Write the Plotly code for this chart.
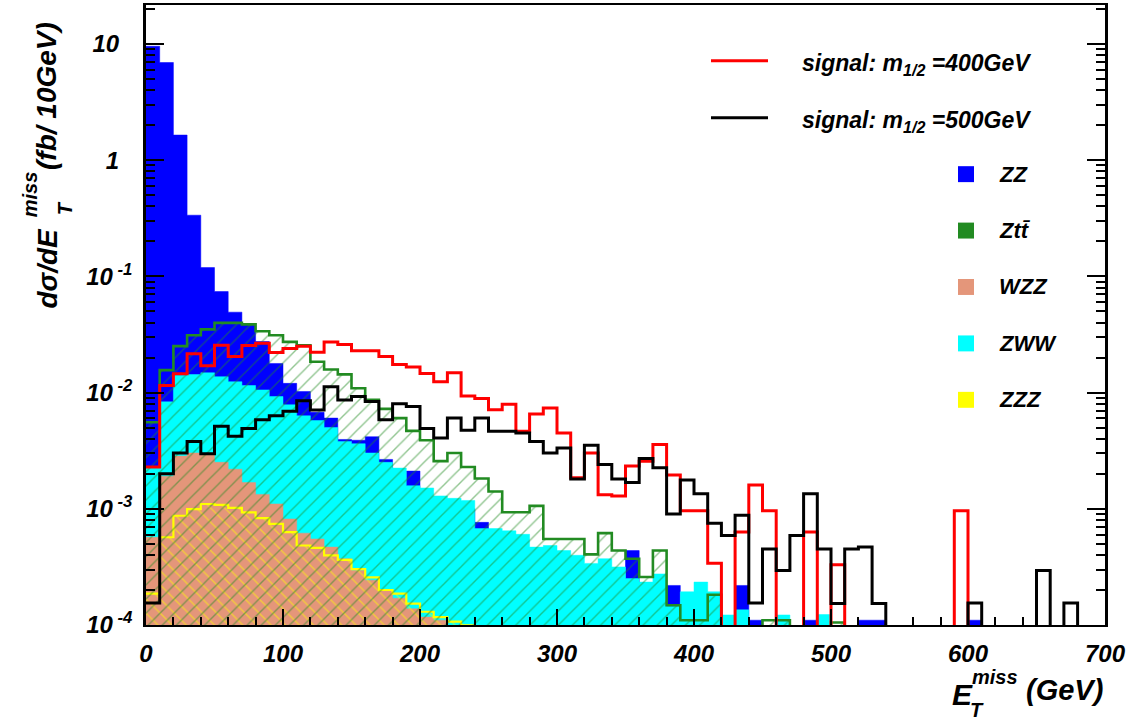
import numpy as np
import plotly.graph_objects as go

# ---------------- data (fb / 10 GeV), 10 GeV bins from 0 to 700 GeV ----------------
bin_edges = list(range(0, 710, 10))

zz = [9.55, 6.92, 1.644, 0.336, 0.119, 0.0740, 0.0492, 0.0389, 0.0275, 0.0178,
      0.0120, 0.0102, 0.00676, 0.00603, 0.00395, 0.00389, 0.00417, 0.00266, 0.00178, 0.00211,
      0.00126, 0.00112, 0.00100, 0.00100, 0.000764, 0.000562, 0.000501, 0.000447, 0.000398, 0.000355,
      0.000355, 0.000316, 0.000282, 0.000282, 0.000251, 0.000437, 0.000158, 0.000158, 0.000219, 0.000126,
      0.000126, 0.000126, 0, 0.000219, 0.00011, 0, 0, 0, 0.00011, 0,
      0, 0, 0.00011, 0.00011, 0, 0, 0, 0, 0, 0,
      0.00011, 0, 0, 0, 0, 0, 0, 0, 0, 0]

ztt = [0.00555, 0.0156, 0.0251, 0.0311, 0.0350, 0.0398, 0.0398, 0.0386, 0.0337, 0.0311,
       0.0273, 0.0255, 0.0184, 0.0158, 0.01435, 0.0109, 0.00865, 0.00724, 0.00603, 0.00468,
       0.00389, 0.00257, 0.00302, 0.00229, 0.00182, 0.00141, 0.000933, 0.000933, 0.00106, 0.00055,
       0.00055, 0.00055, 0.000405, 0.000617, 0.000437, 0.000372, 0.000259, 0.000437, 0.000148, 0.00011,
       0.00011, 0.000182, 0, 0, 0, 0.00011, 0.00011, 0, 0, 0,
       0.000105, 0, 0, 0, 0, 0, 0, 0, 0, 0,
       0, 0, 0, 0, 0, 0, 0, 0, 0, 0]

wzz = [0.000569, 0.00191, 0.00284, 0.00302, 0.00295, 0.00251, 0.00219, 0.00168, 0.00133, 0.00110,
       0.000817, 0.000617, 0.000550, 0.000468, 0.000372, 0.000295, 0.000243, 0.000200, 0.000170, 0.000138,
       0.000117, 0.000110, 0.000079, 0, 0, 0, 0, 0, 0, 0,
       0, 0, 0, 0, 0, 0, 0, 0, 0, 0,
       0, 0, 0, 0, 0, 0, 0, 0, 0, 0,
       0, 0, 0, 0, 0, 0, 0, 0, 0, 0,
       0, 0, 0, 0, 0, 0, 0, 0, 0, 0]

zww = [0.00224, 0.00832, 0.0141, 0.0143, 0.0148, 0.0137, 0.0124, 0.0115, 0.01054, 0.00925,
       0.00785, 0.00631, 0.00575, 0.00501, 0.00380, 0.00363, 0.00302, 0.00251, 0.00224, 0.00158,
       0.00151, 0.00129, 0.00123, 0.00118, 0.000676, 0.000676, 0.000646, 0.000603, 0.000468, 0.000483,
       0.000437, 0.000398, 0.000339, 0.000372, 0.000316, 0.000251, 0.000234, 0.000275, 0.000145, 0.000193,
       0.000234, 0.000193, 0.000122, 0.000135, 0, 0, 0.000122, 0, 0, 0.000123,
       0, 0, 0, 0, 0, 0, 0, 0, 0, 0,
       0, 0, 0, 0, 0, 0, 0, 0, 0, 0]

zzz = [0.000186, 0.000569, 0.000871, 0.000993, 0.00110, 0.00108, 0.00102, 0.000933, 0.000832, 0.000741,
       0.000631, 0.000483, 0.000461, 0.000398, 0.000363, 0.000302, 0.000257, 0.000200, 0.000186, 0.000153,
       0.000130, 0.000117, 0.000107, 0.0000995, 0, 0, 0, 0, 0, 0,
       0, 0, 0, 0, 0, 0, 0, 0, 0, 0,
       0, 0, 0, 0, 0, 0, 0, 0, 0, 0,
       0, 0, 0, 0, 0, 0, 0, 0, 0, 0,
       0, 0, 0, 0, 0, 0, 0, 0, 0, 0]

sig400 = [0.00229, 0.0115, 0.0145, 0.0216, 0.0170, 0.0255, 0.0204, 0.0254, 0.0266, 0.0221,
          0.0239, 0.0251, 0.0222, 0.0273, 0.0259, 0.0229, 0.0229, 0.0204, 0.0174, 0.0166,
          0.0146, 0.0124, 0.0148, 0.00933, 0.00891, 0.00711, 0.00794, 0.00465, 0.00653, 0.00735,
          0.00449, 0.00185, 0.00302, 0.00132, 0.00129, 0.00234, 0.00257, 0.00357, 0.00195, 0.00096,
          0.00096, 0.00034, 0, 0.00063, 0.0016, 0.00096, 0, 0, 0.00063, 0,
          0.00033, 0, 0, 0, 0, 0, 0, 0, 0, 0.00096,
          0, 0, 0, 0, 0, 0, 0, 0, 0, 0]

sig500 = [0.000155, 0.00200, 0.00302, 0.00380, 0.00297, 0.00513, 0.00421, 0.00490, 0.00585, 0.00631,
          0.00692, 0.00851, 0.00708, 0.01125, 0.00865, 0.00925, 0.00838, 0.00583, 0.00800, 0.00759,
          0.00490, 0.00407, 0.00603, 0.00473, 0.00603, 0.00465, 0.00465, 0.00449, 0.00380, 0.00302,
          0.00334, 0.00180, 0.00352, 0.00241, 0.00180, 0.00168, 0.00271, 0.00225, 0.00090, 0.00177,
          0.00135, 0.00075, 0.00059, 0.00088, 0.000155, 0.00045, 0.000295, 0.00059, 0.00135, 0.00045,
          0.000153, 0.00045, 0.00047, 0.000153, 0, 0, 0, 0, 0, 0,
          0.000155, 0, 0, 0, 0, 0.000295, 0, 0.000155, 0, 0]

y_tick_vals = [1e-4, 1e-3, 1e-2, 1e-1, 1, 10]
y_tick_text = ["10<sup> -4</sup>", "10<sup> -3</sup>", "10<sup> -2</sup>", "10<sup> -1</sup>",
               "1\u00a0\u00a0", "10\u00a0\u00a0"]
x_tick_vals = [0, 100, 200, 300, 400, 500, 600, 700]

legend_signal = ["signal: m<sub>1/2</sub> =400GeV", "signal: m<sub>1/2</sub> =500GeV"]
legend_bkg = ["ZZ", "Ztt\u0304", "WZZ", "ZWW", "ZZZ"]

# ---------------- styling ----------------
FONT = "Liberation Sans"
C_ZZ = "#0000ff"
C_ZTT = "#228b22"
C_WZZ = "#e4967a"
C_ZWW = "#00ffff"
C_ZZZ = "#ffff00"

x_edges = np.array(bin_edges, dtype=float)


def step_y(vals):
    y = np.array(vals, dtype=float)
    y = np.where(y > 0, y, 1e-8)
    return np.append(y, y[-1])


fig = go.Figure()

# ZZ (blue, solid)
fig.add_trace(go.Scatter(x=x_edges, y=step_y(zz), mode="lines", line_shape="hv",
                         line=dict(color=C_ZZ, width=0.5), fill="tozeroy", fillcolor=C_ZZ,
                         showlegend=False, hoverinfo="skip"))
# ZWW (cyan, solid)
fig.add_trace(go.Scatter(x=x_edges, y=step_y(zww), mode="lines", line_shape="hv",
                         line=dict(color=C_ZWW, width=0.5), fill="tozeroy", fillcolor=C_ZWW,
                         showlegend=False, hoverinfo="skip"))
# WZZ (salmon, solid)
fig.add_trace(go.Scatter(x=x_edges, y=step_y(wzz), mode="lines", line_shape="hv",
                         line=dict(color=C_WZZ, width=0.5), fill="tozeroy", fillcolor=C_WZZ,
                         showlegend=False, hoverinfo="skip"))
# ZZZ (yellow hatched, yellow outline)
fig.add_trace(go.Scatter(x=x_edges, y=step_y(zzz), mode="lines", line_shape="hv",
                         line=dict(color=C_ZZZ, width=2.2), fill="tozeroy",
                         fillcolor="rgba(0,0,0,0)",
                         fillpattern=dict(shape="\\", fgcolor=C_ZZZ, bgcolor="rgba(0,0,0,0)",
                                          size=10, solidity=0.14),
                         showlegend=False, hoverinfo="skip"))
# Ztt (green hatched, green outline)
fig.add_trace(go.Scatter(x=x_edges, y=step_y(ztt), mode="lines", line_shape="hv",
                         line=dict(color=C_ZTT, width=2.6), fill="tozeroy",
                         fillcolor="rgba(0,0,0,0)",
                         fillpattern=dict(shape="/", fgcolor=C_ZTT, bgcolor="rgba(0,0,0,0)",
                                          size=10, solidity=0.14),
                         showlegend=False, hoverinfo="skip"))
# signals
fig.add_trace(go.Scatter(x=x_edges, y=step_y(sig400), mode="lines", line_shape="hv",
                         line=dict(color="#ff0000", width=3), showlegend=False, hoverinfo="skip"))
fig.add_trace(go.Scatter(x=x_edges, y=step_y(sig500), mode="lines", line_shape="hv",
                         line=dict(color="#000000", width=3), showlegend=False, hoverinfo="skip"))

# ---------------- layout ----------------
L, R, T, B = 146, 42, 3, 95
W, H = 1147, 720
PW, PH = W - L - R, H - T - B


def px(xp):
    return (xp - L) / PW


def py(yp):
    return (H - B - yp) / PH


minor_y = [m * 10.0 ** e for e in range(-4, 2) for m in range(2, 10)]

tickfont = dict(family=FONT, size=24, color="black", weight="bold", style="italic")

fig.update_layout(
    width=W, height=H,
    margin=dict(l=L, r=R, t=T, b=B),
    paper_bgcolor="white", plot_bgcolor="white",
    showlegend=False,
    xaxis=dict(range=[0, 700], showgrid=False, zeroline=False,
               showline=True, linecolor="black", linewidth=2, mirror=True,
               ticks="inside", ticklen=16, tickwidth=2, tickcolor="black",
               tickvals=x_tick_vals, ticktext=[str(v) for v in x_tick_vals],
               tickfont=tickfont, ticklabelstandoff=6,
               minor=dict(ticks="inside", ticklen=8, tickwidth=2, dtick=20, tickcolor="black")),
    yaxis=dict(type="log", range=[-4, 1.335], showgrid=False, zeroline=False,
               showline=True, linecolor="black", linewidth=2.5, mirror="allticks",
               ticks="inside", ticklen=18, tickwidth=2, tickcolor="black",
               tickvals=y_tick_vals, ticktext=y_tick_text, tickfont=tickfont,
               ticklabelstandoff=6,
               minor=dict(ticks="inside", ticklen=9, tickwidth=1.5, tickvals=minor_y,
                          tickcolor="black")),
)

ann_font = dict(family=FONT, color="black", weight="bold", style="italic")
annotations = []
shapes = []

# legend: signal lines
for i, (txt, col) in enumerate(zip(legend_signal, ["#ff0000", "#000000"])):
    yc = 59 + 57 * i
    shapes.append(dict(type="line", xref="paper", yref="paper",
                       x0=px(711), x1=px(768), y0=py(yc), y1=py(yc),
                       line=dict(color=col, width=3)))
    annotations.append(dict(text=txt, xref="paper", yref="paper", x=px(800), y=py(yc + 4),
                            xanchor="left", yanchor="middle", showarrow=False,
                            font=dict(size=23, **ann_font)))

# legend: background boxes
for i, (txt, col) in enumerate(zip(legend_bkg, [C_ZZ, C_ZTT, C_WZZ, C_ZWW, C_ZZZ])):
    yc = 172.7 + 56.6 * i
    shapes.append(dict(type="rect", xref="paper", yref="paper",
                       x0=px(958), x1=px(974), y0=py(yc + 8), y1=py(yc - 8),
                       fillcolor=col, line=dict(width=0)))
    annotations.append(dict(text=txt, xref="paper", yref="paper", x=px(997), y=py(yc),
                            xanchor="left", yanchor="middle", showarrow=False,
                            font=dict(size=22, **ann_font)))

# x-axis title:  E_T^miss (GeV)
annotations += [
    dict(text="E", xref="paper", yref="paper", x=px(950), y=py(695), xanchor="left",
         yanchor="middle", showarrow=False, font=dict(size=30, **ann_font)),
    dict(text="miss", xref="paper", yref="paper", x=px(970), y=py(677), xanchor="left",
         yanchor="middle", showarrow=False, font=dict(size=20, **ann_font)),
    dict(text="T", xref="paper", yref="paper", x=px(968), y=py(710), xanchor="left",
         yanchor="middle", showarrow=False, font=dict(size=20, **ann_font)),
    dict(text="(GeV)", xref="paper", yref="paper", x=px(1105), y=py(690), xanchor="right",
         yanchor="middle", showarrow=False, font=dict(size=29, **ann_font)),
]

# y-axis title:  dσ/dE_T^miss (fb/ 10GeV)  (rotated)
annotations += [
    dict(text="d\u03c3/dE", xref="paper", yref="paper", x=px(48), y=py(310), xanchor="center",
         yanchor="bottom", textangle=-90, showarrow=False, font=dict(size=28, **ann_font)),
    dict(text="miss", xref="paper", yref="paper", x=px(30), y=py(218), xanchor="center",
         yanchor="bottom", textangle=-90, showarrow=False, font=dict(size=20, **ann_font)),
    dict(text="T", xref="paper", yref="paper", x=px(65), y=py(216), xanchor="center",
         yanchor="bottom", textangle=-90, showarrow=False, font=dict(size=20, **ann_font)),
    dict(text="(fb/ 10GeV)", xref="paper", yref="paper", x=px(47), y=py(18), xanchor="center",
         yanchor="top", textangle=-90, showarrow=False, font=dict(size=28, **ann_font)),
]

fig.update_layout(annotations=annotations, shapes=shapes)

fig.write_html("out.html")
